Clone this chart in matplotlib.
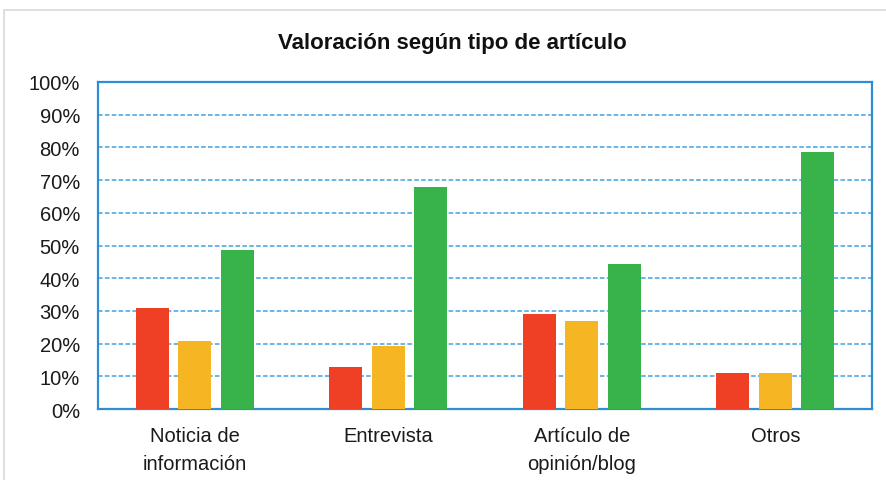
import matplotlib
matplotlib.use('Agg')
import matplotlib.pyplot as plt
import numpy as np
from matplotlib.patches import Rectangle
from matplotlib.ticker import PercentFormatter

plt.rcParams['font.family'] = ['Liberation Sans', 'DejaVu Sans']

# datos
categorias = ['Noticia de\ninformación', 'Entrevista', 'Artículo de\nopinión/blog', 'Otros']
serie_roja = [31.0, 12.9, 29.0, 10.9]
serie_amarilla = [20.7, 19.2, 26.8, 10.9]
serie_verde = [48.6, 67.8, 44.4, 78.5]
ticks_y = [0, 10, 20, 30, 40, 50, 60, 70, 80, 90, 100]

colores = ['#EF4026', '#F6B624', '#37B34A']
azul = '#2E8DD3'

fig = plt.figure(figsize=(8.86, 4.81), dpi=100)
ax = fig.add_axes([98 / 886, 1 - 410 / 481, (872 - 98) / 886, (410 - 83) / 481])

# marco exterior gris claro
fig.patches.append(Rectangle((4 / 886, -0.1), 1.2, 1 - 11 / 481 + 0.1,
                             transform=fig.transFigure, fill=False,
                             edgecolor='#D9D9D9', linewidth=1.2))

x = np.arange(len(categorias))
ancho = 0.17
paso = 0.22
for i, (vals, c) in enumerate(zip([serie_roja, serie_amarilla, serie_verde], colores)):
    ax.bar(x + (i - 1) * paso, vals, width=ancho, color=c, zorder=3)

ax.set_xlim(-0.5, len(categorias) - 0.5)
ax.set_ylim(0, 100)
ax.set_yticks(ticks_y)
ax.yaxis.set_major_formatter(PercentFormatter(decimals=0))
ax.set_xticks(x)
ax.set_xticklabels(categorias, fontsize=14.5, color='#1A1A1A', linespacing=1.6)
ax.tick_params(axis='y', length=0, pad=13, labelsize=14.5, labelcolor='#1A1A1A')
ax.tick_params(axis='x', length=0, pad=12)

for y in ticks_y[1:-1]:
    ax.axhline(y, color='#41A3DF', linewidth=1.1, linestyle=(0, (3, 1.5)), zorder=1)

for s in ax.spines.values():
    s.set_color(azul)
    s.set_linewidth(1.6)

fig.text(452 / 886, 1 - 44 / 481, 'Valoración según tipo de artículo',
         ha='center', va='center', fontsize=16, fontweight='bold', color='#111111')

fig.savefig('out.png', dpi=100)
